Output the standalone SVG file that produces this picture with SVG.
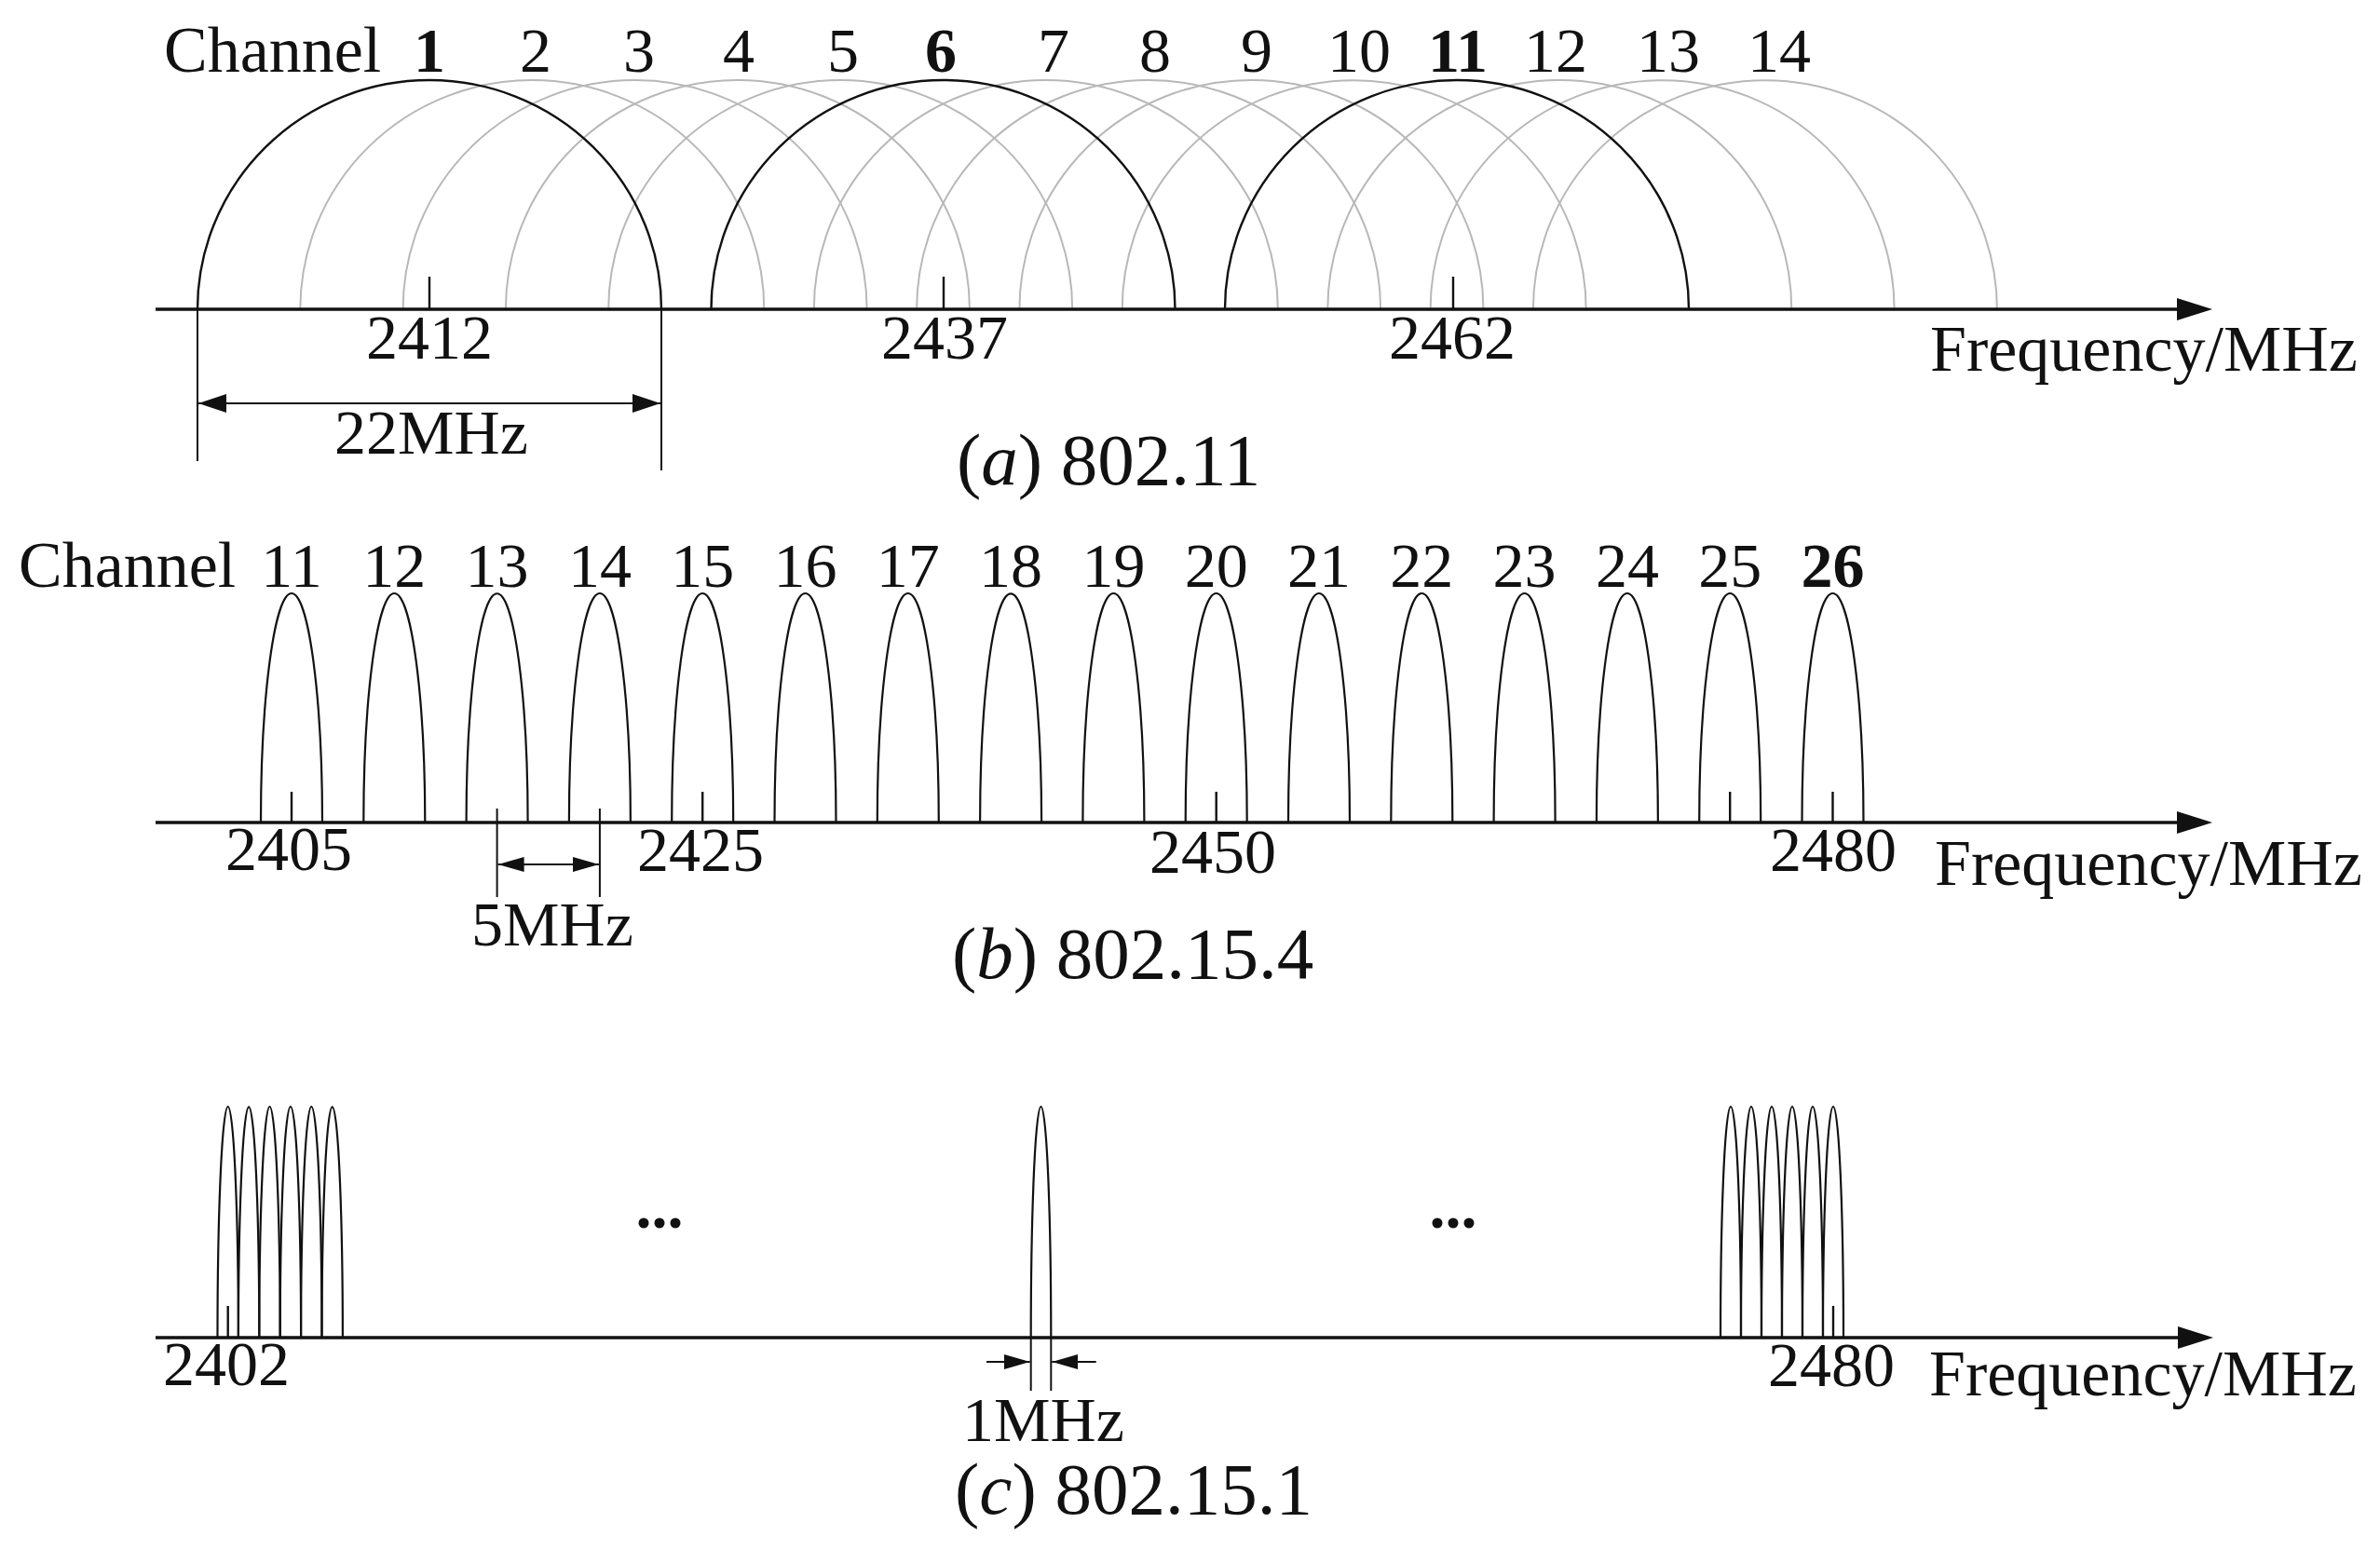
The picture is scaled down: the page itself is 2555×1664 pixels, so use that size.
<svg xmlns="http://www.w3.org/2000/svg" width="2555" height="1664" viewBox="0 0 2555 1664">
<style>
  text { font-family: "Liberation Serif", "Times New Roman", serif; fill: #111; }
  .lbl { font-size: 68px; text-anchor: middle; }
  .ch { font-size: 70px; }
  .freq { font-size: 70px; }
  .cap { font-size: 79px; }
  .b { font-weight: bold; }
  .arc { fill: none; stroke: #111; stroke-width: 2.4; }
  .garc { fill: none; stroke: #b8b8b8; stroke-width: 2; }
  .pk { fill: none; stroke: #111; stroke-width: 2.2; }
  .tick { stroke: #111; stroke-width: 2.4; }
  .axis { stroke: #111; stroke-width: 3.6; fill: none; }
  .dim { stroke: #111; stroke-width: 2; fill: none; }
</style>
<defs>
  <marker id="axhead" markerUnits="userSpaceOnUse" markerWidth="40" markerHeight="26" refX="8" refY="12" orient="auto">
    <path d="M0,0 L38,12 L0,24 Z" fill="#111"/>
  </marker>
  <marker id="dimhead" markerUnits="userSpaceOnUse" markerWidth="32" markerHeight="22" refX="30" refY="10" orient="auto-start-reverse">
    <path d="M0,0 L30,10 L0,20 Z" fill="#111"/>
  </marker>
  <marker id="dimhead-s" markerUnits="userSpaceOnUse" markerWidth="30" markerHeight="18" refX="28" refY="8" orient="auto-start-reverse">
    <path d="M0,0 L28,8 L0,16 Z" fill="#111"/>
  </marker>
</defs>
<rect width="2555" height="1664" fill="#fff"/>

<!-- ================= Panel (a) 802.11 ================= -->
<g id="panel-a">
  <text class="ch" x="176" y="77">Channel</text>
  <g id="a-grey-channels">
    <g id="a-ch2"><path class="garc" d="M322.3,332 A249,246 0 0 1 820.3,332"/><text class="lbl" x="575" y="77">2</text></g>
    <g id="a-ch3"><path class="garc" d="M432.6,332 A249,246 0 0 1 930.6,332"/><text class="lbl" x="686" y="77">3</text></g>
    <g id="a-ch4"><path class="garc" d="M542.9,332 A249,246 0 0 1 1040.9,332"/><text class="lbl" x="793" y="77">4</text></g>
    <g id="a-ch5"><path class="garc" d="M653.2,332 A249,246 0 0 1 1151.2,332"/><text class="lbl" x="905" y="77">5</text></g>
    <g id="a-ch7"><path class="garc" d="M873.8,332 A249,246 0 0 1 1371.8,332"/><text class="lbl" x="1131" y="77">7</text></g>
    <g id="a-ch8"><path class="garc" d="M984.1,332 A249,246 0 0 1 1482.1,332"/><text class="lbl" x="1240" y="77">8</text></g>
    <g id="a-ch9"><path class="garc" d="M1094.4,332 A249,246 0 0 1 1592.4,332"/><text class="lbl" x="1349" y="77">9</text></g>
    <g id="a-ch10"><path class="garc" d="M1204.7,332 A249,246 0 0 1 1702.7,332"/><text class="lbl" x="1459" y="77">10</text></g>
    <g id="a-ch12"><path class="garc" d="M1425.3,332 A249,246 0 0 1 1923.3,332"/><text class="lbl" x="1670" y="77">12</text></g>
    <g id="a-ch13"><path class="garc" d="M1535.6,332 A249,246 0 0 1 2033.6,332"/><text class="lbl" x="1791" y="77">13</text></g>
    <g id="a-ch14"><path class="garc" d="M1645.9,332 A249,246 0 0 1 2143.9,332"/><text class="lbl" x="1910" y="77">14</text></g>
  </g>
  <g id="a-ch1"><path class="arc" d="M212,332 A249,246 0 0 1 710,332"/><text class="lbl b" x="461" y="77">1</text>
    <line class="tick" x1="461" y1="297" x2="461" y2="332"/><text class="lbl" x="461" y="385">2412</text></g>
  <g id="a-ch6"><path class="arc" d="M763.5,332 A249,246 0 0 1 1261.5,332"/><text class="lbl b" x="1010" y="77">6</text>
    <line class="tick" x1="1013" y1="297" x2="1013" y2="332"/><text class="lbl" x="1014" y="385">2437</text></g>
  <g id="a-ch11"><path class="arc" d="M1315,332 A249,246 0 0 1 1813,332"/><text class="lbl b" x="1565" y="77">11</text>
    <line class="tick" x1="1560" y1="297" x2="1560" y2="332"/><text class="lbl" x="1559" y="385">2462</text></g>
  <text class="freq" x="2072" y="398">Frequency/MHz</text>
  <text class="lbl" x="463" y="487">22MHz</text>
  <text class="cap" x="1027" y="520">(<tspan font-style="italic">a</tspan>) 802.11</text>
</g>

<!-- ================= Panel (b) 802.15.4 ================= -->
<g id="panel-b">
  <text class="ch" x="20" y="630">Channel</text>
  <g id="b-ch11"><path class="pk" d="M280,883 A33,246 0 0 1 346,883"/><text class="lbl" x="313" y="630">11</text></g>
  <g id="b-ch12"><path class="pk" d="M390.3,883 A33,246 0 0 1 456.3,883"/><text class="lbl" x="423.3" y="630">12</text></g>
  <g id="b-ch13"><path class="pk" d="M500.6,883 A33,246 0 0 1 566.6,883"/><text class="lbl" x="533.6" y="630">13</text></g>
  <g id="b-ch14"><path class="pk" d="M610.9,883 A33,246 0 0 1 676.9,883"/><text class="lbl" x="643.9" y="630">14</text></g>
  <g id="b-ch15"><path class="pk" d="M721.2,883 A33,246 0 0 1 787.2,883"/><text class="lbl" x="754.2" y="630">15</text></g>
  <g id="b-ch16"><path class="pk" d="M831.5,883 A33,246 0 0 1 897.5,883"/><text class="lbl" x="864.5" y="630">16</text></g>
  <g id="b-ch17"><path class="pk" d="M941.8,883 A33,246 0 0 1 1007.8,883"/><text class="lbl" x="974.8" y="630">17</text></g>
  <g id="b-ch18"><path class="pk" d="M1052.1,883 A33,246 0 0 1 1118.1,883"/><text class="lbl" x="1085.1" y="630">18</text></g>
  <g id="b-ch19"><path class="pk" d="M1162.4,883 A33,246 0 0 1 1228.4,883"/><text class="lbl" x="1195.4" y="630">19</text></g>
  <g id="b-ch20"><path class="pk" d="M1272.7,883 A33,246 0 0 1 1338.7,883"/><text class="lbl" x="1305.7" y="630">20</text></g>
  <g id="b-ch21"><path class="pk" d="M1383,883 A33,246 0 0 1 1449,883"/><text class="lbl" x="1416" y="630">21</text></g>
  <g id="b-ch22"><path class="pk" d="M1493.3,883 A33,246 0 0 1 1559.3,883"/><text class="lbl" x="1526.3" y="630">22</text></g>
  <g id="b-ch23"><path class="pk" d="M1603.6,883 A33,246 0 0 1 1669.6,883"/><text class="lbl" x="1636.6" y="630">23</text></g>
  <g id="b-ch24"><path class="pk" d="M1713.9,883 A33,246 0 0 1 1779.9,883"/><text class="lbl" x="1746.9" y="630">24</text></g>
  <g id="b-ch25"><path class="pk" d="M1824.2,883 A33,246 0 0 1 1890.2,883"/><text class="lbl" x="1857.2" y="630">25</text></g>
  <g id="b-ch26"><path class="pk" d="M1934.5,883 A33,246 0 0 1 2000.5,883" stroke-width="2.8"/><text class="lbl b" x="1967.5" y="630">26</text></g>
  <g id="b-ticks">
    <line class="tick" x1="313" y1="850" x2="313" y2="883"/>
    <line class="tick" x1="754.2" y1="850" x2="754.2" y2="883"/>
    <line class="tick" x1="1305.7" y1="850" x2="1305.7" y2="883"/>
    <line class="tick" x1="1857.2" y1="850" x2="1857.2" y2="883"/>
    <line class="tick" x1="1967.5" y1="850" x2="1967.5" y2="883"/>
  </g>
  <text class="lbl" x="310" y="934">2405</text>
  <text class="lbl" x="752" y="935">2425</text>
  <text class="lbl" x="1302" y="937">2450</text>
  <text class="lbl" x="1968" y="935">2480</text>
  <text class="lbl" x="593" y="1015">5MHz</text>
  <text class="freq" x="2077" y="950">Frequency/MHz</text>
  <text class="cap" x="1022" y="1050">(<tspan font-style="italic">b</tspan>) 802.15.4</text>
</g>

<!-- ================= Panel (c) 802.15.1 ================= -->
<g id="panel-c">
  <g id="c-low-cluster">
    <path class="pk" d="M233.5,1436 A11.2,248 0 0 1 255.9,1436"/>
    <path class="pk" d="M255.9,1436 A11.2,248 0 0 1 278.3,1436"/>
    <path class="pk" d="M278.3,1436 A11.2,248 0 0 1 300.7,1436"/>
    <path class="pk" d="M300.7,1436 A11.2,248 0 0 1 323.1,1436"/>
    <path class="pk" d="M323.1,1436 A11.2,248 0 0 1 345.5,1436"/>
    <path class="pk" d="M345.5,1436 A11.2,248 0 0 1 367.9,1436"/>
    <line class="tick" x1="244.7" y1="1402" x2="244.7" y2="1436"/>
    <text class="lbl" x="243" y="1487">2402</text>
  </g>
  <g id="c-mid-channel">
    <path class="pk" d="M1106.7,1436 A10.8,248 0 0 1 1128.3,1436"/>
    <text class="lbl" x="1120" y="1547">1MHz</text>
  </g>
  <g id="c-high-cluster">
    <path class="pk" d="M1847,1436 A11,248 0 0 1 1869,1436"/>
    <path class="pk" d="M1869,1436 A11,248 0 0 1 1891,1436"/>
    <path class="pk" d="M1891,1436 A11,248 0 0 1 1913,1436"/>
    <path class="pk" d="M1913,1436 A11,248 0 0 1 1935,1436"/>
    <path class="pk" d="M1935,1436 A11,248 0 0 1 1957,1436"/>
    <path class="pk" d="M1957,1436 A11,248 0 0 1 1979,1436"/>
    <line class="tick" x1="1968" y1="1402" x2="1968" y2="1436"/>
    <text class="lbl" x="1966" y="1488">2480</text>
  </g>
  <text class="lbl b" x="708" y="1318">...</text>
  <text class="lbl b" x="1560" y="1318">...</text>
  <text class="freq" x="2071" y="1498">Frequency/MHz</text>
  <text class="cap" x="1025" y="1625">(<tspan font-style="italic">c</tspan>) 802.15.1</text>
</g>

<!-- ================= Connectors: axes and dimension lines ================= -->
<g id="connectors">
  <line class="axis" x1="167" y1="332" x2="2345" y2="332" marker-end="url(#axhead)"/>
  <line class="axis" x1="167" y1="883" x2="2345" y2="883" marker-end="url(#axhead)"/>
  <line class="axis" x1="167" y1="1436" x2="2346" y2="1436" marker-end="url(#axhead)"/>
  <!-- 22MHz -->
  <line class="dim" x1="212" y1="332" x2="212" y2="495"/>
  <line class="dim" x1="710" y1="332" x2="710" y2="505"/>
  <line class="dim" x1="213" y1="433" x2="709" y2="433" marker-start="url(#dimhead)" marker-end="url(#dimhead)"/>
  <!-- 5MHz -->
  <line class="dim" x1="533.6" y1="868" x2="533.6" y2="963"/>
  <line class="dim" x1="643.9" y1="868" x2="643.9" y2="963"/>
  <line class="dim" x1="534.6" y1="928" x2="642.9" y2="928" marker-start="url(#dimhead-s)" marker-end="url(#dimhead-s)"/>
  <!-- 1MHz -->
  <line class="dim" x1="1106.7" y1="1436" x2="1106.7" y2="1493"/>
  <line class="dim" x1="1128.3" y1="1436" x2="1128.3" y2="1493"/>
  <line class="dim" x1="1059" y1="1462" x2="1105.7" y2="1462" marker-end="url(#dimhead-s)"/>
  <line class="dim" x1="1176.7" y1="1462" x2="1129.3" y2="1462" marker-end="url(#dimhead-s)"/>
</g>
</svg>
